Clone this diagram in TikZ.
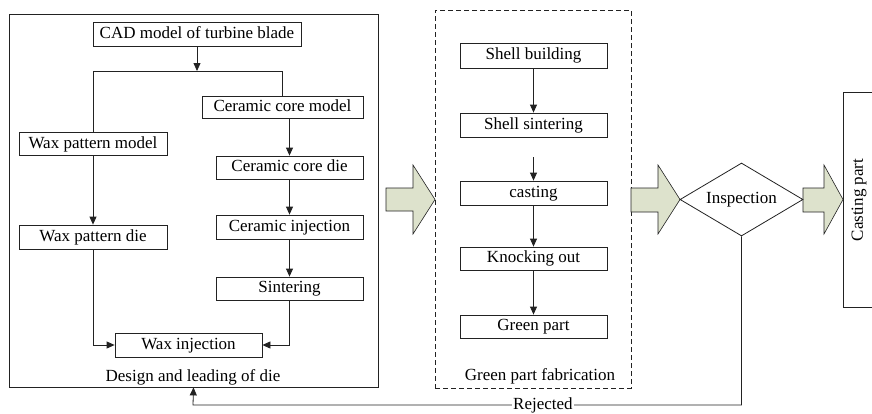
\documentclass[tikz,border=0pt]{standalone}
\usepackage{fontspec}
\setmainfont{Liberation Serif}
\usetikzlibrary{arrows.meta,shapes.geometric}
\definecolor{arrfill}{HTML}{DDE2CC}
\definecolor{linec}{HTML}{222222}
\tikzset{
  every node/.style={font=\fontsize{17}{20}\selectfont},
  boxn/.style={draw=linec, line width=0.8pt, inner sep=0pt, minimum height=23pt, text=black, text height=11.5pt, text depth=3.5pt},
  conn/.style={draw=linec, line width=0.8pt},
  arr/.style={conn, -{Triangle[length=8pt,width=7pt]}},
  bigarrow/.style={draw=linec, line width=0.6pt, fill=arrfill},
  frame/.style={draw=linec, line width=0.8pt},
}
\begin{document}
\begin{tikzpicture}[x=1pt,y=-1pt]
\useasboundingbox (0,0) rectangle (872,413);

% left frame
\node[frame, minimum width=369pt, minimum height=373pt, inner sep=0pt] (left) at (193.5,200.5) {};
\node (leftlbl) at (193,377) {Design and leading of die};

\node[boxn, minimum width=208pt, minimum height=24pt] (cad) at (197,34) {CAD model of turbine blade};
\node[boxn, minimum width=161pt, minimum height=22pt] (ccm) at (282.5,107.5) {Ceramic core model};
\node[boxn, minimum width=148pt] (wpm) at (93,144) {Wax pattern model};
\node[boxn, minimum width=147pt] (ccd) at (289.5,167.5) {Ceramic core die};
\node[boxn, minimum width=147pt, minimum height=24pt] (cinj) at (289.5,227) {Ceramic injection};
\node[boxn, minimum width=147pt] (sint) at (289.5,288.5) {Sintering};
\node[boxn, minimum width=148pt, minimum height=24pt] (wpd) at (93,237) {Wax pattern die};
\node[boxn, minimum width=147pt, minimum height=24pt] (winj) at (188.5,345) {Wax injection};

\coordinate (split) at (197,71);
\draw[arr] (cad.south) -- (split);
\draw[conn] (split) -- (split -| wpm.north) -- (wpm.north);
\draw[conn] (split) -- (split -| ccm.north) -- (ccm.north);
\draw[arr] (wpm.south) -- (wpd.north);
\draw[arr] (ccm.south -| ccd.north) -- (ccd.north);
\draw[arr] (ccd.south) -- (cinj.north);
\draw[arr] (cinj.south) -- (sint.north);
\draw[arr] (wpd.south) |- (winj.west);
\draw[arr] (sint.south) |- (winj.east);

% dashed frame
\node[frame, dashed, dash pattern=on 5pt off 3pt, minimum width=196pt, minimum height=378pt, inner sep=0pt] (mid) at (533,199) {};
\node (midlbl) at (540,376) {Green part fabrication};

\node[boxn, minimum width=147pt, minimum height=25pt] (shb) at (533.5,55.5) {Shell building};
\node[boxn, minimum width=147pt, minimum height=24pt] (shs) at (533.5,125) {Shell sintering};
\node[boxn, minimum width=147pt, minimum height=24pt] (cast) at (533.5,193) {casting};
\node[boxn, minimum width=147pt] (ko) at (533.5,258.5) {Knocking out};
\node[boxn, minimum width=147pt] (gp) at (533.5,326.5) {Green part};

\coordinate (floatstart) at (533.5,157);
\draw[arr] (shb.south) -- (shs.north);
\draw[arr] (floatstart) -- (cast.north);
\draw[arr] (cast.south) -- (ko.north);
\draw[arr] (ko.south) -- (gp.north);

% big arrows
\draw[bigarrow] (386,188) -- (413,188) -- (413,165) -- (435,199.5) -- (413,234) -- (413,211) -- (386,211) -- cycle;
\draw[bigarrow] (631,188) -- (658,188) -- (658,165) -- (680,199.5) -- (658,234) -- (658,212) -- (631,212) -- cycle;
\draw[bigarrow] (803,188) -- (824,188) -- (824,165) -- (843,199.5) -- (824,234) -- (824,212) -- (803,212) -- cycle;

% inspection diamond
\node[diamond, draw=linec, line width=0.8pt, inner sep=0pt, shape aspect=1.7, minimum width=123pt, minimum height=73pt, fill=white] (insp) at (741.5,199.5) {Inspection};

% casting part
\draw[frame] (900,92) -- (843,92) -- (843,307) -- (900,307);
\node[rotate=90] (cp) at (859,200) {Casting part};

% rejected loop
\coordinate (rj1) at (741.5,405);
\coordinate (rj2) at (193,405);
\draw[arr] (insp.south) -- (rj1) -- node[pos=0.362, fill=white, inner sep=1pt] (rejlbl) {Rejected} (rj2) -- (left.south);
\end{tikzpicture}
\end{document}
